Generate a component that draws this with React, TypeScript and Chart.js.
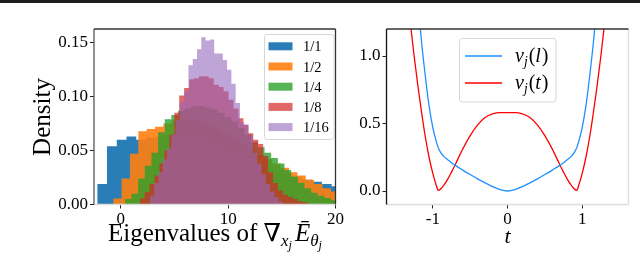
import React, { useEffect, useRef } from "react";
import { Chart, registerables } from "chart.js";

Chart.register(...registerables);

const SERIF = '"Liberation Serif", "DejaVu Serif", serif';

// ---------------- Left panel: overlaid density histograms ----------------
const histLabels = ["1/1", "1/2", "1/4", "1/8", "1/16"];
const histColors = ["31,119,180", "255,127,14", "44,160,44", "214,39,40", "148,103,189"];
const histAlpha = [0.95, 0.9, 0.8, 0.7, 0.6];
const histBinStart = [-2.2, -0.71, 0.37, 1.76, 2.7];
const histBinWidth = [0.91, 0.78, 0.62, 0.46, 0.4];

const dens_1_1 = [
  0.019, 0.054, 0.06, 0.063, 0.06, 0.062, 0.063, 0.064, 0.064, 0.063, 0.061, 0.058, 0.055,
  0.051, 0.047, 0.043, 0.039, 0.035, 0.031, 0.028, 0.025, 0.023, 0.021, 0.019, 0.017,
];
const dens_1_2 = [
  0.0055, 0.024, 0.047, 0.068, 0.07, 0.072, 0.075, 0.078, 0.079, 0.079, 0.077, 0.074, 0.07,
  0.066, 0.061, 0.056, 0.051, 0.046, 0.042, 0.038, 0.034, 0.03, 0.027, 0.023, 0.019, 0.015,
  0.012, 0.01,
];
const dens_1_4 = [
  0.005, 0.01, 0.024, 0.036, 0.048, 0.067, 0.079, 0.083, 0.087, 0.089, 0.091, 0.091, 0.09,
  0.088, 0.085, 0.081, 0.077, 0.071, 0.065, 0.058, 0.053, 0.048, 0.043, 0.038, 0.032, 0.026,
  0.02, 0.015, 0.011, 0.008, 0.006, 0.004, 0.003,
];
const dens_1_8 = [
  0.0055, 0.0116, 0.019, 0.027, 0.038, 0.05, 0.065, 0.085, 0.101, 0.108, 0.116, 0.117, 0.119,
  0.119, 0.117, 0.111, 0.109, 0.105, 0.097, 0.089, 0.08, 0.074, 0.066, 0.06, 0.056, 0.045,
  0.03, 0.02, 0.013, 0.009, 0.007, 0.005, 0.003, 0.002,
];
const dens_1_16 = [
  0.008, 0.02, 0.03, 0.042, 0.052, 0.065, 0.078, 0.095, 0.105, 0.129, 0.135, 0.144, 0.155,
  0.152, 0.153, 0.14, 0.14, 0.134, 0.125, 0.112, 0.094, 0.076, 0.074, 0.064, 0.048, 0.038,
  0.028, 0.019, 0.012, 0.007, 0.003,
];
const histDensities = [dens_1_1, dens_1_2, dens_1_4, dens_1_8, dens_1_16];
const histXTicks = [0, 10, 20];
const histYTicks = [0, 0.05, 0.1, 0.15];

// ---------------- Right panel: two curves ----------------
const tValues = [
  -1.4, -1.35, -1.3, -1.25, -1.2, -1.15, -1.1, -1.05, -1.0, -0.95, -0.93, -0.9, -0.85, -0.8,
  -0.75, -0.7, -0.6, -0.5, -0.4, -0.3, -0.2, -0.1, 0, 0.1, 0.2, 0.3, 0.4, 0.5, 0.6, 0.7, 0.75,
  0.8, 0.85, 0.9, 0.93, 0.95, 1.0, 1.05, 1.1, 1.15, 1.2, 1.25, 1.3, 1.35, 1.4,
];
const vLower = [
  3.0, 2.5, 2.1, 1.72, 1.4, 1.1, 0.85, 0.63, 0.47, 0.36, 0.325, 0.29, 0.255, 0.232, 0.21, 0.19,
  0.155, 0.122, 0.09, 0.06, 0.033, 0.01, 0, 0.01, 0.033, 0.06, 0.09, 0.122, 0.155, 0.19, 0.21,
  0.232, 0.255, 0.29, 0.325, 0.36, 0.47, 0.63, 0.85, 1.1, 1.4, 1.72, 2.1, 2.5, 3.0,
];
const vTrue = [
  1.85, 1.5, 1.24, 1.0, 0.78, 0.58, 0.4, 0.25, 0.13, 0.035, 0.005, 0.012, 0.045, 0.088, 0.14,
  0.195, 0.31, 0.41, 0.49, 0.545, 0.572, 0.58, 0.58, 0.58, 0.572, 0.545, 0.49, 0.41, 0.31,
  0.195, 0.14, 0.088, 0.045, 0.012, 0.005, 0.035, 0.13, 0.25, 0.4, 0.58, 0.78, 1.0, 1.24, 1.5,
  1.85,
];
const lineLabels = ["v_j(l)", "v_j(t)"];
const lineColors = ["#1e8fff", "#ff0000"];
const tTicks = [-1, 0, 1];
const vTicks = [0, 0.5, 1.0];

// ---------------- helpers ----------------
type Part = { text: string; size: number; italic?: boolean; dy?: number; gap?: number };

function fontOf(p: Part) {
  return `${p.italic ? "italic " : ""}${p.size}px ${SERIF}`;
}

function drawParts(ctx: CanvasRenderingContext2D, parts: Part[], x: number, baseline: number, center: boolean) {
  ctx.save();
  ctx.textBaseline = "alphabetic";
  ctx.textAlign = "left";
  ctx.fillStyle = "#000";
  let total = 0;
  const widths = parts.map((p) => {
    ctx.font = fontOf(p);
    const w = ctx.measureText(p.text).width + (p.gap || 0);
    total += w;
    return w;
  });
  let cx = center ? x - total / 2 : x;
  parts.forEach((p, i) => {
    ctx.font = fontOf(p);
    ctx.fillText(p.text, cx, baseline + (p.dy || 0));
    cx += widths[i];
  });
  ctx.restore();
}

function labelParts(label: string, size: number): Part[] {
  // "v_j(t)" -> italic v, subscript j, then (t)
  const [main, rest] = label.split("_");
  const sub = rest.charAt(0);
  const tail = rest.slice(1);
  const inner = tail.slice(1, -1);
  return [
    { text: main, size, italic: true },
    { text: sub, size: size * 0.68, italic: true, dy: 4, gap: 1 },
    { text: "(", size },
    { text: inner, size, italic: true, gap: 1 },
    { text: ")", size },
  ];
}

function roundRect(ctx: CanvasRenderingContext2D, x: number, y: number, w: number, h: number, r: number) {
  ctx.beginPath();
  ctx.moveTo(x + r, y);
  ctx.lineTo(x + w - r, y);
  ctx.arcTo(x + w, y, x + w, y + r, r);
  ctx.lineTo(x + w, y + h - r);
  ctx.arcTo(x + w, y + h, x + w - r, y + h, r);
  ctx.lineTo(x + r, y + h);
  ctx.arcTo(x, y + h, x, y + h - r, r);
  ctx.lineTo(x, y + r);
  ctx.arcTo(x, y, x + r, y, r);
  ctx.closePath();
}

function spines(colors: { top: string; left: string; right: string; bottom: string }) {
  return {
    id: "spines",
    afterDraw(chart: any) {
      const { ctx, chartArea: a } = chart;
      ctx.save();
      ctx.lineWidth = 1.3;
      const seg = (c: string, x1: number, y1: number, x2: number, y2: number) => {
        ctx.strokeStyle = c;
        ctx.beginPath();
        ctx.moveTo(x1, y1);
        ctx.lineTo(x2, y2);
        ctx.stroke();
      };
      seg(colors.bottom, a.left, a.bottom, a.right, a.bottom);
      seg(colors.right, a.right, a.top, a.right, a.bottom);
      seg(colors.left, a.left, a.top, a.left, a.bottom);
      seg(colors.top, a.left, a.top, a.right, a.top);
      ctx.restore();
    },
  };
}

function histPoints(start: number, width: number, dens: number[]) {
  const pts = [{ x: start, y: 0 }];
  dens.forEach((d, i) => pts.push({ x: start + i * width, y: d }));
  pts.push({ x: start + dens.length * width, y: 0 });
  return pts;
}

const tickFont = { family: SERIF, size: 17 };

// ---------------- Left chart config ----------------
function leftConfig(): any {
  const legendPlugin = {
    id: "histLegend",
    afterDraw(chart: any) {
      const ctx = chart.ctx as CanvasRenderingContext2D;
      ctx.save();
      roundRect(ctx, 264.5, 34.5, 69.5, 105, 3);
      ctx.fillStyle = "rgba(255,255,255,0.8)";
      ctx.fill();
      ctx.strokeStyle = "#d6d6d6";
      ctx.lineWidth = 1;
      ctx.stroke();
      histLabels.forEach((lab, i) => {
        const cy = 46.3 + i * 20.2;
        ctx.fillStyle = `rgba(${histColors[i]},${histAlpha[i]})`;
        ctx.fillRect(268.5, cy - 4, 24, 8);
        ctx.fillStyle = "#000";
        ctx.font = `14.5px ${SERIF}`;
        ctx.textBaseline = "alphabetic";
        ctx.textAlign = "left";
        ctx.fillText(lab, 303, cy + 5);
      });
      ctx.restore();
    },
  };
  const titlePlugin = {
    id: "histTitles",
    afterDraw(chart: any) {
      const ctx = chart.ctx as CanvasRenderingContext2D;
      drawParts(
        ctx,
        [
          { text: "Eigenvalues of ", size: 25 },
          { text: "∇", size: 25 },
          { text: "x", size: 17, italic: true, dy: 5 },
          { text: "j", size: 12, italic: true, dy: 8, gap: 3 },
          { text: "Ē", size: 25, italic: true },
          { text: "θ", size: 17, italic: true, dy: 5 },
          { text: "j", size: 12, italic: true, dy: 8 },
        ],
        215,
        241,
        true
      );
      ctx.save();
      ctx.translate(49.5, 117);
      ctx.rotate(-Math.PI / 2);
      ctx.font = `25px ${SERIF}`;
      ctx.fillStyle = "#000";
      ctx.textAlign = "center";
      ctx.textBaseline = "alphabetic";
      ctx.fillText("Density", 0, 0);
      ctx.restore();
    },
  };
  return {
    type: "line",
    data: {
      datasets: histDensities.map((d, i) => ({
        label: histLabels[i],
        data: histPoints(histBinStart[i], histBinWidth[i], d),
        stepped: true,
        fill: "origin",
        backgroundColor: `rgba(${histColors[i]},${histAlpha[i]})`,
        borderColor: "transparent",
        borderWidth: 0,
        pointRadius: 0,
        order: 4 - i,
      })),
    },
    options: {
      animation: false,
      responsive: false,
      events: [],
      layout: { padding: { left: 0, top: 29, right: 8, bottom: 0 } },
      plugins: { legend: { display: false }, tooltip: { enabled: false } },
      scales: {
        x: {
          type: "linear",
          min: -2.5,
          max: 20,
          afterBuildTicks: (s: any) => {
            s.ticks = histXTicks.map((v) => ({ value: v }));
          },
          afterFit: (s: any) => {
            s.height = 55.5;
          },
          grid: { drawOnChartArea: false, drawTicks: true, tickLength: 4, tickColor: "#222", tickWidth: 1 },
          border: { display: false },
          ticks: { font: tickFont, color: "#000", padding: 1, maxRotation: 0, callback: (v: any) => String(v) },
        },
        y: {
          type: "linear",
          min: 0,
          max: 0.1627,
          afterBuildTicks: (s: any) => {
            s.ticks = histYTicks.map((v) => ({ value: v }));
          },
          afterFit: (s: any) => {
            s.width = 94;
          },
          grid: { drawOnChartArea: false, drawTicks: true, tickLength: 4, tickColor: "#222", tickWidth: 1 },
          border: { display: false },
          ticks: { font: tickFont, color: "#000", padding: 2, callback: (v: any) => Number(v).toFixed(2) },
        },
      },
    },
    plugins: [spines({ top: "#333", left: "#555", right: "#333", bottom: "#ddd" }), legendPlugin, titlePlugin],
  };
}

// ---------------- Right chart config ----------------
function rightConfig(): any {
  const OFF = 345;
  const legendPlugin = {
    id: "lineLegend",
    afterDraw(chart: any) {
      const ctx = chart.ctx as CanvasRenderingContext2D;
      ctx.save();
      roundRect(ctx, 459.5 - OFF, 38.5, 96.5, 63.5, 3);
      ctx.fillStyle = "rgba(255,255,255,0.8)";
      ctx.fill();
      ctx.strokeStyle = "#d6d6d6";
      ctx.lineWidth = 1;
      ctx.stroke();
      lineLabels.forEach((lab, i) => {
        const cy = 56 + i * 27;
        ctx.strokeStyle = lineColors[i];
        ctx.lineWidth = 1.3;
        ctx.beginPath();
        ctx.moveTo(465 - OFF, cy);
        ctx.lineTo(502 - OFF, cy);
        ctx.stroke();
        drawParts(ctx, labelParts(lab, 20), 515 - OFF, cy + 5.5, false);
      });
      ctx.restore();
    },
  };
  const titlePlugin = {
    id: "tTitle",
    afterDraw(chart: any) {
      drawParts(chart.ctx, [{ text: "t", size: 22, italic: true }], 507.5 - OFF, 243, true);
    },
  };
  const mk = (vals: number[]) => tValues.map((t, i) => ({ x: t, y: vals[i] }));
  return {
    type: "line",
    data: {
      datasets: [vLower, vTrue].map((vals, i) => ({
        label: lineLabels[i],
        data: mk(vals),
        borderColor: lineColors[i],
        borderWidth: 1.3,
        pointRadius: 0,
        fill: false,
        cubicInterpolationMode: "monotone",
      })),
    },
    options: {
      animation: false,
      responsive: false,
      events: [],
      layout: { padding: { left: 0, top: 29, right: 11.5, bottom: 0 } },
      plugins: { legend: { display: false }, tooltip: { enabled: false } },
      scales: {
        x: {
          type: "linear",
          min: -1.62,
          max: 1.62,
          afterBuildTicks: (s: any) => {
            s.ticks = tTicks.map((v) => ({ value: v }));
          },
          afterFit: (s: any) => {
            s.height = 55.5;
          },
          grid: { drawOnChartArea: false, drawTicks: true, tickLength: 4, tickColor: "#222", tickWidth: 1 },
          border: { display: false },
          ticks: { font: tickFont, color: "#000", padding: 1, maxRotation: 0, callback: (v: any) => String(v) },
        },
        y: {
          type: "linear",
          min: -0.1,
          max: 1.2,
          afterBuildTicks: (s: any) => {
            s.ticks = vTicks.map((v) => ({ value: v }));
          },
          afterFit: (s: any) => {
            s.width = 41.5;
          },
          grid: { drawOnChartArea: false, drawTicks: true, tickLength: 4, tickColor: "#222", tickWidth: 1 },
          border: { display: false },
          ticks: { font: tickFont, color: "#000", padding: 2, callback: (v: any) => Number(v).toFixed(1) },
        },
      },
    },
    plugins: [spines({ top: "#333", left: "#111", right: "#ddd", bottom: "#ddd" }), legendPlugin, titlePlugin],
  };
}

export default function App() {
  const leftRef = useRef<HTMLCanvasElement>(null);
  const rightRef = useRef<HTMLCanvasElement>(null);
  useEffect(() => {
    const c1 = new Chart(leftRef.current as HTMLCanvasElement, leftConfig());
    const c2 = new Chart(rightRef.current as HTMLCanvasElement, rightConfig());
    return () => {
      c1.destroy();
      c2.destroy();
    };
  }, []);
  return (
    <div style={{ position: "fixed", left: 0, top: 0, width: 640, height: 260, background: "#fff", overflow: "hidden" }}>
      <div style={{ position: "absolute", left: 0, top: 0, width: 640, height: 3, background: "#1c1c1c" }} />
      <canvas
        ref={leftRef}
        width={345}
        height={260}
        style={{ position: "absolute", left: 0, top: 0, width: 345, height: 260 }}
      />
      <canvas
        ref={rightRef}
        width={295}
        height={260}
        style={{ position: "absolute", left: 345, top: 0, width: 295, height: 260 }}
      />
    </div>
  );
}
